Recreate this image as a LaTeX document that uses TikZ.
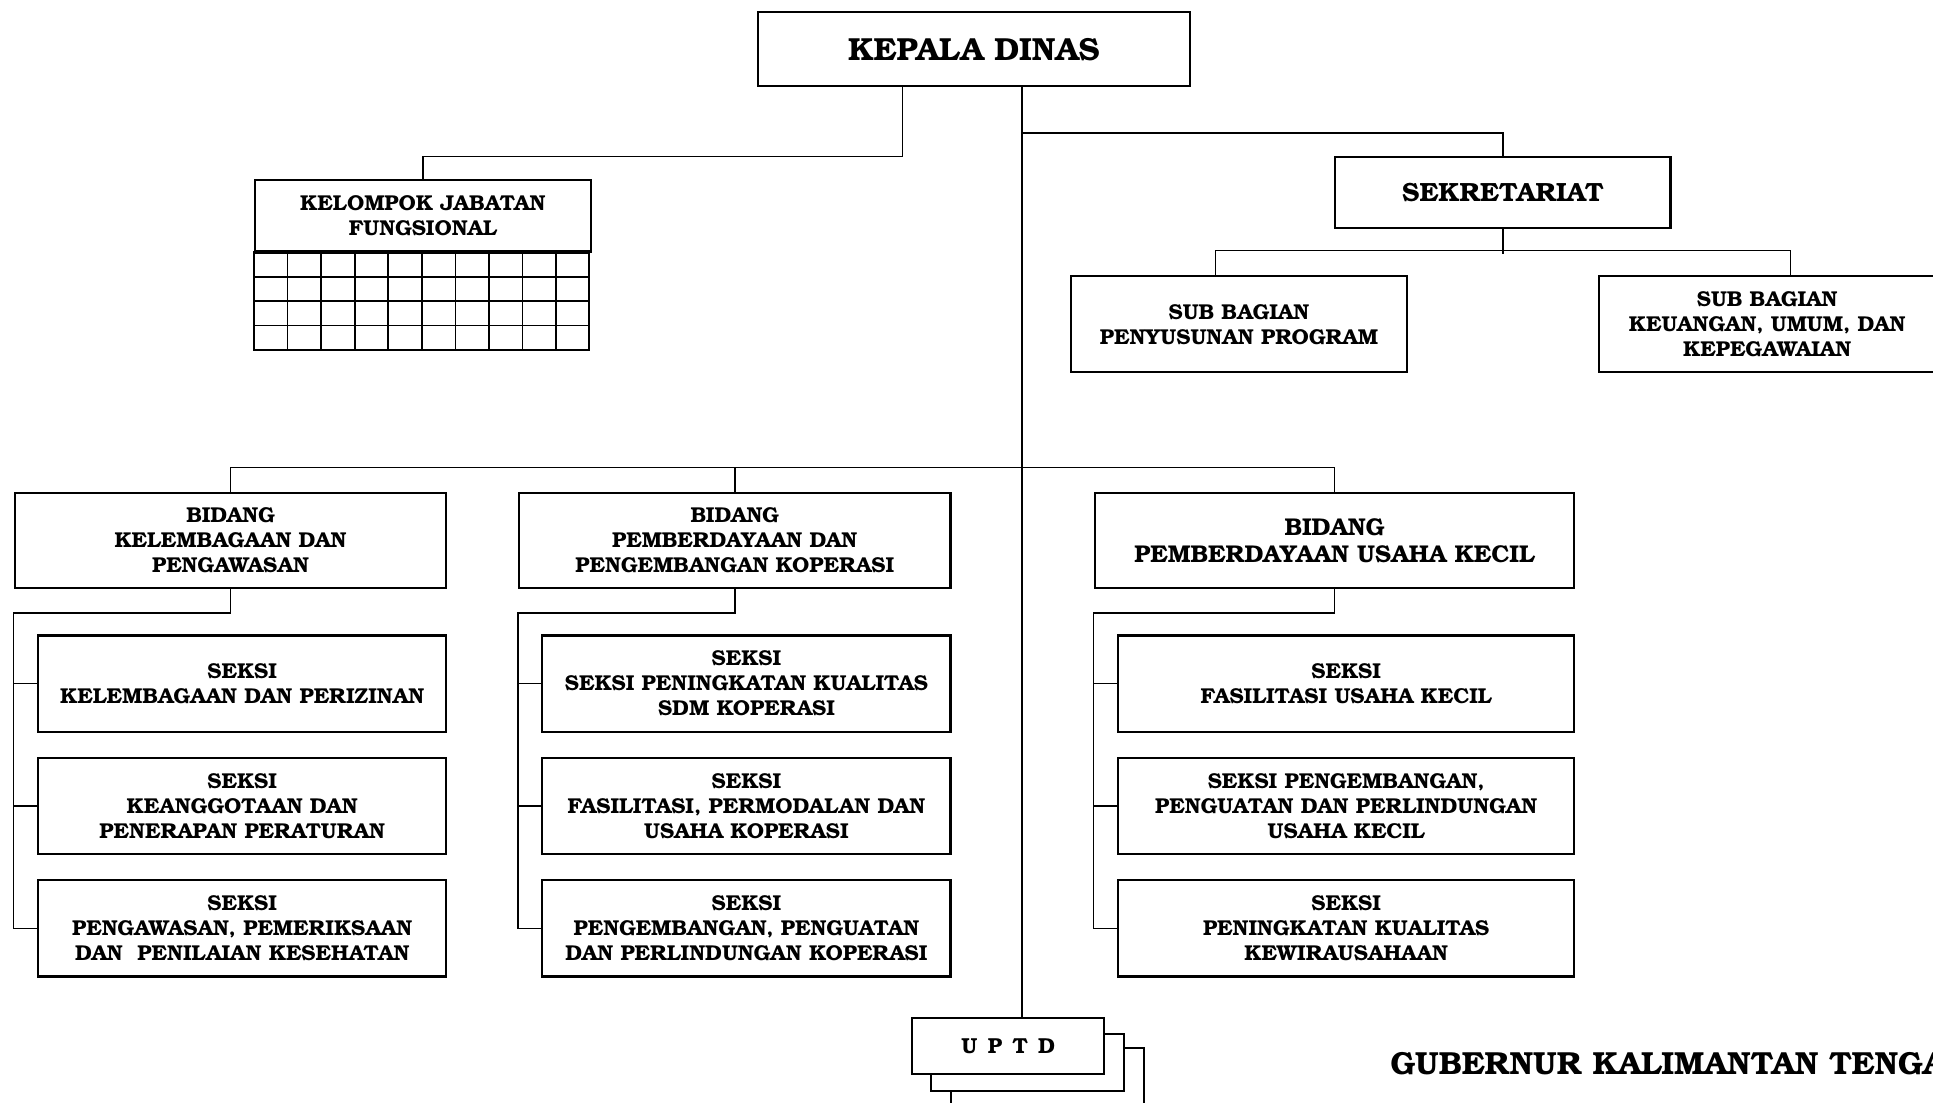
\documentclass[tikz,border=0pt]{standalone}
\usepackage{fontspec}
\setmainfont{TeX Gyre Bonum}
\usetikzlibrary{positioning,calc}

\begin{document}
\begin{tikzpicture}[x=0.025cm, y=-0.025cm, font=\bfseries\fontsize{12.4}{14.4}\selectfont, node distance=4.9mm,
    unit/.style={rectangle, draw, line width=1.2pt, fill=white, align=center, inner sep=2pt},
    seksi/.style={unit, minimum height=1.95cm},
    uptdbox/.style={unit, minimum width=3.9cm, minimum height=1.15cm},
    link/.style={line width=0.9pt}]
        \useasboundingbox (0,0) rectangle (1568,894);
        \clip (0,0) rectangle (1568,894);

        % top
        \node[unit, minimum width=8.75cm, minimum height=1.5cm, font=\bfseries\fontsize{18.4}{22}\selectfont] (kadis) at (790,40) {KEPALA DINAS};
        \node[unit, minimum width=6.8cm, minimum height=1.45cm] (kjf) at (343,175) {KELOMPOK JABATAN\\FUNGSIONAL};
        \node[unit, minimum width=6.8cm, minimum height=1.45cm, font=\bfseries\fontsize{15.2}{18}\selectfont] (sek) at (1219,156) {SEKRETARIAT};
        \node[unit, minimum width=6.8cm, minimum height=1.95cm] (subprog) at (1005,263) {SUB BAGIAN\\PENYUSUNAN PROGRAM};
        \node[unit, minimum width=6.825cm, minimum height=1.95cm] (subkeu) at (1433.5,263) {SUB BAGIAN\\KEUANGAN, UMUM, DAN\\KEPEGAWAIAN};

        % grid under jabatan fungsional
        \draw[line width=1.2pt] (kjf.south west) rectangle ++(272,79);
        \foreach \i in {1,...,9}
          \draw[link] ([xshift=\i*0.68cm]kjf.south west) -- ++(0,79);
        \foreach \j in {1,2,3}
          \draw[link] ([yshift=-\j*0.49375cm]kjf.south west) -- ++(272,0);

        % bidang
        \node[unit, minimum width=8.75cm, minimum height=1.925cm] (b1) at (187,438.5) {BIDANG\\KELEMBAGAAN DAN\\PENGAWASAN};
        \node[unit, minimum width=8.75cm, minimum height=1.925cm] (b2) at (596,438.5) {BIDANG\\PEMBERDAYAAN DAN\\PENGEMBANGAN KOPERASI};
        \node[unit, minimum width=9.725cm, minimum height=1.925cm, font=\bfseries\fontsize{14}{15.5}\selectfont] (b3) at (1082.5,438.5) {BIDANG\\PEMBERDAYAAN USAHA KECIL};

        % seksi
        \node[seksi, minimum width=8.275cm] (s11) at (196.5,554.5) {SEKSI\\KELEMBAGAAN DAN PERIZINAN};
        \node[seksi, minimum width=8.275cm, below=of s11] (s12) {SEKSI\\KEANGGOTAAN DAN\\PENERAPAN PERATURAN};
        \node[seksi, minimum width=8.275cm, below=of s12] (s13) {SEKSI\\PENGAWASAN, PEMERIKSAAN\\DAN\ \ PENILAIAN KESEHATAN};

        \node[seksi, minimum width=8.275cm] (s21) at (605.5,554.5) {SEKSI\\SEKSI PENINGKATAN KUALITAS\\SDM KOPERASI};
        \node[seksi, minimum width=8.275cm, below=of s21] (s22) {SEKSI\\FASILITASI, PERMODALAN DAN\\USAHA KOPERASI};
        \node[seksi, minimum width=8.275cm, below=of s22] (s23) {SEKSI\\PENGEMBANGAN, PENGUATAN\\DAN PERLINDUNGAN KOPERASI};

        \node[seksi, minimum width=9.25cm] (s31) at (1092,554.5) {SEKSI\\FASILITASI USAHA KECIL};
        \node[seksi, minimum width=9.25cm, below=of s31] (s32) {SEKSI PENGEMBANGAN,\\PENGUATAN DAN PERLINDUNGAN\\USAHA KECIL};
        \node[seksi, minimum width=9.25cm, below=of s32] (s33) {SEKSI\\PENINGKATAN KUALITAS\\KEWIRAUSAHAAN};

        % uptd
        \node[uptdbox] (uptd3) at (849.7,873.4) {};
        \node[uptdbox] (uptd2) at (833.5,861.8) {};
        \node[uptdbox, font=\bfseries\fontsize{12.5}{15}\selectfont] (uptd) at (817.8,848.5) {U\hspace{6pt}P\hspace{6pt}T\hspace{6pt}D};

        \node[anchor=west, inner sep=0pt, font=\bfseries\fontsize{18.4}{22}\selectfont] (gub) at (1127.5,863) {GUBERNUR KALIMANTAN TENGAH};

        % lines
        \coordinate (trunk) at ([xshift=0.975cm]kadis.south);
        \draw[link] (trunk) -- (trunk |- uptd.north);
        \draw[link] ([xshift=-1.45cm]kadis.south) -- ++(0,56) -| (kjf.north);
        \draw[link] ($(trunk)+(0,37)$) -| (sek.north);
        \draw[link] (sek.south) -- ++(0,20);
        \draw[link] ([xshift=-0.475cm]subprog.north) -- ++(0,-20) -| ([xshift=0.475cm]subkeu.north);
        \draw[link] (b1.north) -- ++(0,-20) -| (b3.north);
        \draw[link] (b2.north) -- ++(0,-20);
        \foreach \b/\s in {b1/s1, b2/s2, b3/s3} {
          \draw[link] (\b.south) -- ++(0,19.5) -| (\b.west |- \s3.west) -- (\s3.west);
          \draw[link] (\b.west |- \s1.west) -- (\s1.west);
          \draw[link] (\b.west |- \s2.west) -- (\s2.west);
        }
      \end{tikzpicture}
\end{document}
